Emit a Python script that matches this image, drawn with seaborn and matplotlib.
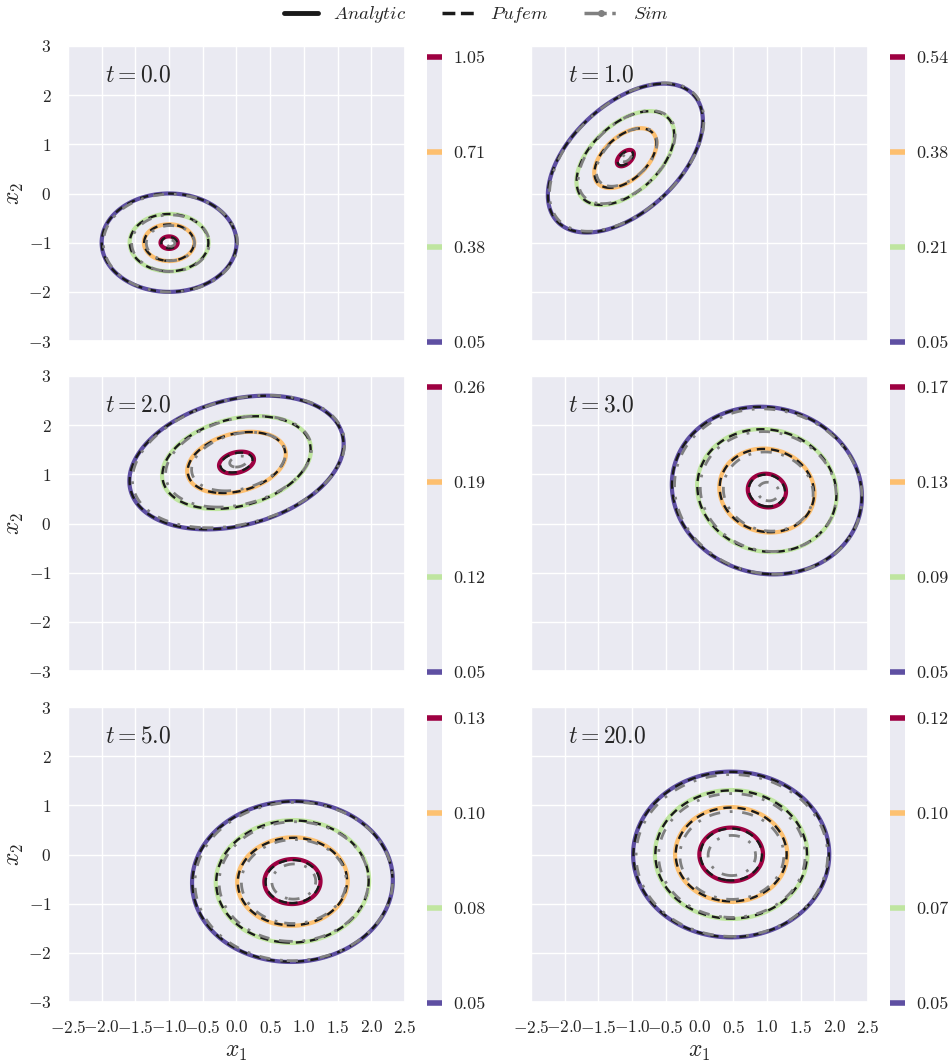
import numpy as np
import matplotlib
matplotlib.use("Agg")
import matplotlib.pyplot as plt
from matplotlib.lines import Line2D
import seaborn as sns

# ─────────────────────────────────────────────
# DATA
# ─────────────────────────────────────────────
times = [0.0, 1.0, 2.0, 3.0, 5.0, 20.0]

# gaussian parameters of the analytic density per snapshot
mean_x1 = [-1.0, -1.1, 0.0, 1.0, 0.83, 0.47]
mean_x2 = [-1.0, 0.72, 1.24, 0.67, -0.55, 0.0]
var_x1 = [0.162, 0.2745, 0.746, 0.78, 1.07, 1.043]
var_x2 = [0.162, 0.476, 0.546, 1.14, 1.29, 1.40]
cov_x12 = [0.0, 0.18, 0.177, -0.067, 0.02, 0.0]

# peak heights: analytic, pufem and sampled (sim) solution
peak_analytic = [1.10, 0.556, 0.272, 0.179, 0.141, 0.138]
peak_pufem = [1.09, 0.553, 0.270, 0.178, 0.140, 0.137]
peak_sim = [1.06, 0.545, 0.263, 0.1727, 0.1366, 0.1316]

# small offset of the sampled mean
sim_shift_x1 = [0.02, 0.02, 0.03, 0.02, 0.02, 0.01]
sim_shift_x2 = [-0.01, 0.02, 0.02, -0.02, 0.0, -0.02]

# contour levels (colorbar ticks)
levels_t = [
    [0.05, 0.382, 0.714, 1.046],
    [0.05, 0.213, 0.377, 0.54],
    [0.05, 0.12, 0.19, 0.26],
    [0.05, 0.09, 0.13, 0.17],
    [0.05, 0.077, 0.103, 0.13],
    [0.05, 0.0747, 0.099, 0.124],
]

x1_ticks = [-2.5, -2.0, -1.5, -1.0, -0.5, 0.0, 0.5, 1.0, 1.5, 2.0, 2.5]
x2_ticks = [-3, -2, -1, 0, 1, 2, 3]

# ─────────────────────────────────────────────
# STYLE
# ─────────────────────────────────────────────
sns.set_theme(style="darkgrid")
plt.rcParams["font.family"] = "serif"
plt.rcParams["font.serif"] = ["cmr10", "DejaVu Serif"]
plt.rcParams["mathtext.fontset"] = "cm"
plt.rcParams["axes.formatter.use_mathtext"] = True


def density(X, Y, i, peak, sx=0.0, sy=0.0):
    dx = X - mean_x1[i] - sx
    dy = Y - mean_x2[i] - sy
    cov = np.array([[var_x1[i], cov_x12[i]], [cov_x12[i], var_x2[i]]])
    inv = np.linalg.inv(cov)
    q = inv[0, 0] * dx**2 + 2 * inv[0, 1] * dx * dy + inv[1, 1] * dy**2
    return peak * np.exp(-0.5 * q)


gx = np.linspace(-2.5, 2.5, 400)
gy = np.linspace(-3, 3, 400)
X, Y = np.meshgrid(gx, gy)

# ─────────────────────────────────────────────
# LAYOUT (pixel boxes of the reference)
# ─────────────────────────────────────────────
W, H = 953, 1062
fig = plt.figure(figsize=(W / 100, H / 100), dpi=100)


def rect(x, ytop, w, h):
    return [x / W, 1 - (ytop + h) / H, w / W, h / H]


col_x = [68, 531]
cbar_x = [427, 890]
row_top = [46, 376, 707]
ax_w, ax_h = 337, 295

for i, t in enumerate(times):
    r, c = divmod(i, 2)
    ax = fig.add_axes(rect(col_x[c], row_top[r], ax_w, ax_h))
    cax = fig.add_axes(rect(cbar_x[c], row_top[r] + 11, 15, ax_h - 10))

    lv = levels_t[i]
    Za = density(X, Y, i, peak_analytic[i])
    Zp = density(X, Y, i, peak_pufem[i])
    Zs = density(X, Y, i, peak_sim[i], sim_shift_x1[i], sim_shift_x2[i])

    cs = ax.contour(X, Y, Za, levels=lv, cmap="Spectral_r", linewidths=3.0)
    ax.contour(X, Y, Zp, levels=lv, colors="k", linewidths=1.7,
               linestyles=[(0, (3.5, 2.5))])
    ax.contour(X, Y, Zs, levels=lv, colors="grey", linewidths=2.0,
               linestyles=[(0, (4, 3.5, 1, 3.5))])

    cb = fig.colorbar(cs, cax=cax, format="%.2f")
    cb.outline.set_visible(False)
    cb.lines[0].set_linewidths(4)
    cb.ax.tick_params(labelsize=13, length=0, pad=8)
    cb.ax.grid(False)

    ax.set_xlim(-2.5, 2.5)
    ax.set_ylim(-3, 3)
    ax.set_xticks(x1_ticks)
    ax.set_yticks(x2_ticks)
    ax.tick_params(labelsize=12.5, pad=6)
    ax.text(0.11, 0.9, r"$t = %.1f$" % t, transform=ax.transAxes,
            fontsize=17, va="center", ha="left", color=".15")

    if r < 2:
        ax.tick_params(labelbottom=False)
    else:
        ax.set_xlabel(r"$x_1$", fontsize=17, labelpad=4)
    if c == 1:
        ax.tick_params(labelleft=False)
    else:
        ax.set_ylabel(r"$x_2$", fontsize=17, labelpad=1)

handles = [
    Line2D([], [], color="k", lw=3.5, ls="-"),
    Line2D([], [], color="k", lw=2.5, ls="--"),
    Line2D([], [], color="grey", lw=2.5, ls="-.", marker="o", markersize=4),
]
fig.legend(handles, [r"$Analytic$", r"$Pufem$", r"$Sim$"], loc="upper center",
           ncol=3, frameon=False, fontsize=13.5, bbox_to_anchor=(0.5, 1.012),
           handlelength=1.8, columnspacing=1.9)

fig.savefig("out.png", dpi=100)
